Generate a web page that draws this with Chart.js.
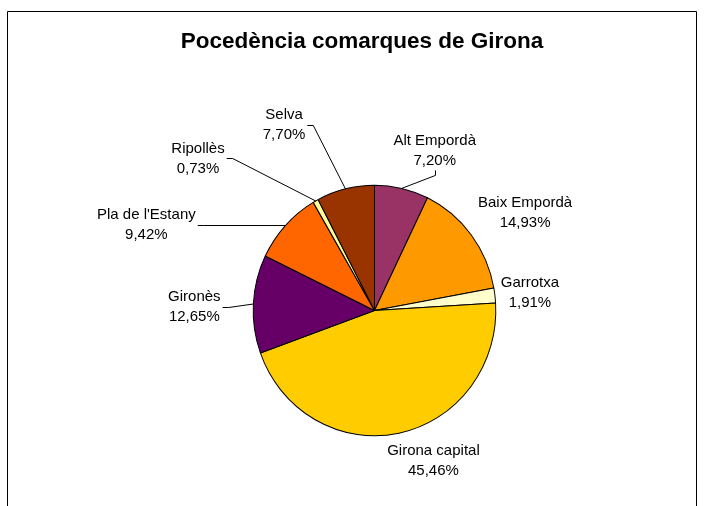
<!DOCTYPE html>
<html>
<head>
<meta charset="utf-8">
<script src="https://cdn.jsdelivr.net/npm/chart.js@4/dist/chart.umd.min.js"></script>
<style>
  html, body { margin: 0; padding: 0; background: #ffffff; }
  #wrap { width: 704px; height: 506px; position: relative; }
</style>
</head>
<body>
<div id="wrap"><canvas id="c" width="704" height="506"></canvas></div>
<script>
// ---- data ----
const title = "Pocedència comarques de Girona";
const categories = ["Alt Empordà", "Baix Empordà", "Garrotxa", "Girona capital", "Gironès", "Pla de l'Estany", "Ripollès", "Selva"];
const percentages = [7.20, 14.93, 1.91, 45.46, 12.65, 9.42, 0.73, 7.70];
const sliceColors = ["#993366", "#FF9900", "#FFFFCC", "#FFCC00", "#660066", "#FF6600", "#FFFF99", "#993300"];

// label placement: offset of the label centre from the slice's outer mid point (px)
const labelOffsets = [[33, -38], [54, -22], [35, -3], [34.5, 28], [-59, 3], [-139, -0.5], [-117.6, -42.5], [-61.4, -63.8]];
// the original pie is very slightly taller than wide
const pieScaleX = 121.3 / 123, pieScaleY = 125.3 / 123;

const FONT = "'Liberation Sans', Arial, sans-serif";

function fmt(v) { return v.toFixed(2).replace('.', ',') + '%'; }

const decor = {
  id: 'decor',
  beforeDraw(chart) {
    const ctx = chart.ctx;
    ctx.save();
    ctx.fillStyle = '#ffffff';
    ctx.fillRect(0, 0, chart.width, chart.height);
    ctx.strokeStyle = '#000000';
    ctx.lineWidth = 1;
    ctx.beginPath();
    ctx.moveTo(7.5, chart.height);
    ctx.lineTo(7.5, 11.5);
    ctx.lineTo(696.5, 11.5);
    ctx.lineTo(696.5, chart.height);
    ctx.stroke();
    ctx.fillStyle = '#000000';
    ctx.font = "bold 22.5px " + FONT;
    ctx.textAlign = 'center';
    ctx.textBaseline = 'alphabetic';
    ctx.fillText(title, 362, 48);
    ctx.restore();
  },
  beforeDatasetsDraw(chart) {
    const ctx = chart.ctx;
    const a = chart.chartArea;
    const cx = (a.left + a.right) / 2, cy = (a.top + a.bottom) / 2;
    ctx.save();
    ctx.translate(cx, cy);
    ctx.scale(pieScaleX, pieScaleY);
    ctx.translate(-cx, -cy);
  },
  afterDatasetsDraw(chart) {
    const ctx = chart.ctx;
    ctx.restore();
    const meta = chart.getDatasetMeta(0);
    ctx.save();
    ctx.font = "15px " + FONT;
    ctx.fillStyle = '#000000';
    ctx.strokeStyle = '#000000';
    ctx.lineWidth = 1;
    ctx.textAlign = 'center';
    ctx.textBaseline = 'middle';
    meta.data.forEach((arc, i) => {
      const p = arc.getProps(['x', 'y', 'startAngle', 'endAngle', 'outerRadius'], true);
      const mid = (p.startAngle + p.endAngle) / 2;
      const ex = p.x + Math.cos(mid) * p.outerRadius * pieScaleX;
      const ey = p.y + Math.sin(mid) * p.outerRadius * pieScaleY;
      const cx = ex + labelOffsets[i][0];
      const cy = ey + labelOffsets[i][1];
      const l1 = categories[i], l2 = fmt(percentages[i]);
      const w = Math.max(ctx.measureText(l1).width, ctx.measureText(l2).width);
      const top = cy - 18, bottom = cy + 18;
      const left = cx - w / 2, right = cx + w / 2;
      ctx.fillText(l1, cx, cy - 10);
      ctx.fillText(l2, cx, cy + 10);
      // leader line when the label is away from the slice
      const nx = Math.max(left, Math.min(ex, right));
      const ny = Math.max(top, Math.min(ey, bottom));
      const d = Math.hypot(ex - nx, ey - ny);
      if (d > 12) {
        ctx.beginPath();
        if (ex > right + 4) {
          const sx = right + 2;
          ctx.moveTo(sx, Math.round(cy) + 0.5);
          ctx.lineTo(sx + 6, Math.round(cy) + 0.5);
        } else if (ex < left - 4) {
          const sx = left - 2;
          ctx.moveTo(sx, Math.round(cy) + 0.5);
          ctx.lineTo(sx - 6, Math.round(cy) + 0.5);
        } else {
          const sy = bottom + 2;
          ctx.moveTo(Math.round(cx) + 0.5, sy);
          ctx.lineTo(Math.round(cx) + 0.5, sy + 5);
        }
        ctx.lineTo(ex, ey);
        ctx.stroke();
      }
    });
    ctx.restore();
  }
};

new Chart(document.getElementById('c'), {
  type: 'pie',
  data: {
    labels: categories,
    datasets: [{
      data: percentages,
      backgroundColor: sliceColors,
      borderColor: '#000000',
      borderWidth: 1,
      hoverOffset: 0,
      radius: 123
    }]
  },
  options: {
    responsive: false,
    animation: false,
    events: [],
    layout: { padding: { left: 252, right: 207, top: 188, bottom: 73 } },
    plugins: {
      legend: { display: false },
      tooltip: { enabled: false },
      title: { display: false }
    }
  },
  plugins: [decor]
});
</script>
</body>
</html>
